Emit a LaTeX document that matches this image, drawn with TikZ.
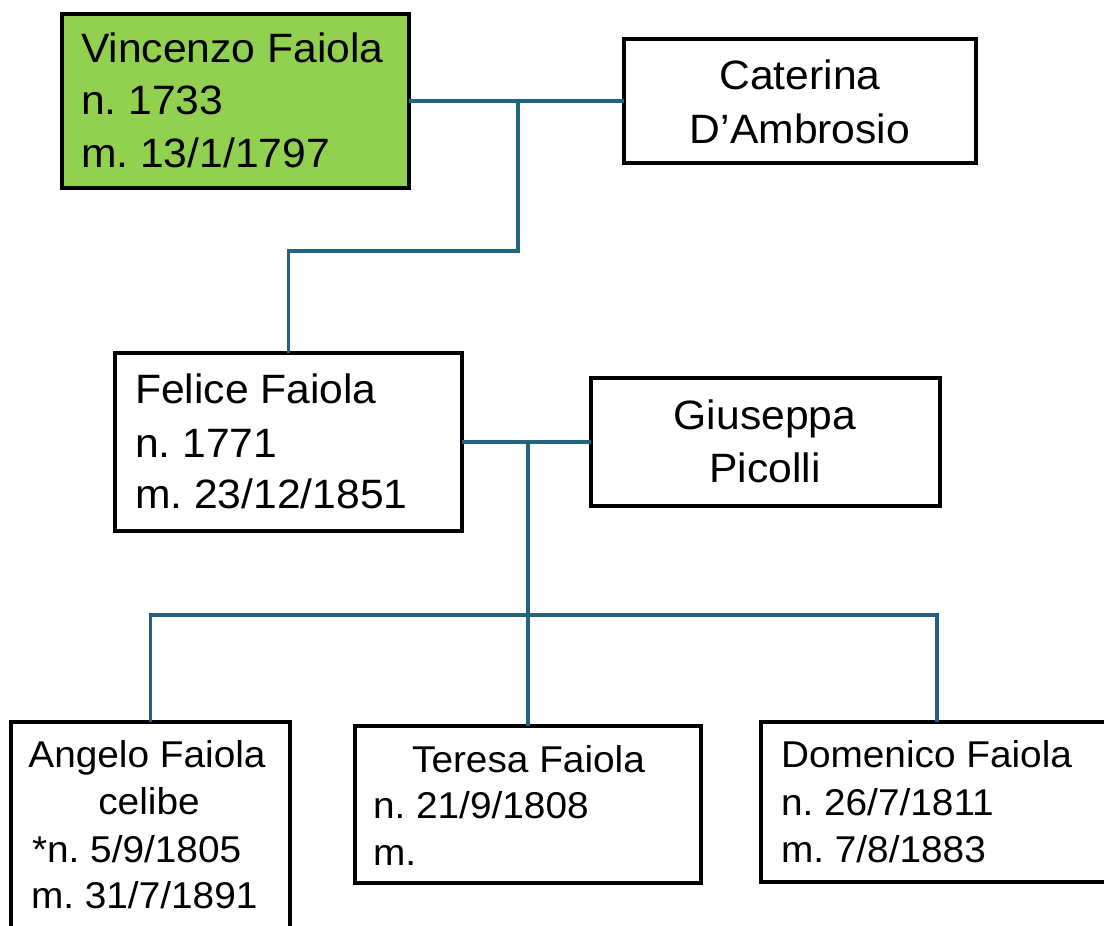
\documentclass[tikz,border=0pt]{standalone}
\usepackage{fontspec}
\setmainfont{Liberation Sans}[FakeStretch=1.04]
\definecolor{linkblue}{RGB}{36,98,130}
\definecolor{leafgreen}{HTML}{92D050}
\tikzset{
  person/.style={draw=black, line width=3.5pt, fill=white, rectangle, inner sep=0pt, outer sep=0pt, anchor=north west},
  big/.style={font=\fontsize{41}{50}\selectfont, inner sep=0pt, outer sep=0pt},
  small/.style={font=\fontsize{37.3}{46}\selectfont, inner sep=0pt, outer sep=0pt},
  link/.style={draw=linkblue, line width=3.8pt}
}
\frenchspacing
\begin{document}
\begin{tikzpicture}[x=1pt,y=-1pt]
\useasboundingbox (0,0) rectangle (1104,926);
\fill[white] (0,0) rectangle (1104,926);

% boxes
\node[person, fill=leafgreen, minimum width=347pt, minimum height=174pt] (vin) at (62,14) {};
\node[person, minimum width=352pt, minimum height=124pt] (cat) at (624,39) {};
\node[person, minimum width=347pt, minimum height=178pt] (fel) at (115,353) {};
\node[person, minimum width=349pt, minimum height=128pt] (giu) at (591,378) {};
\node[person, minimum width=279pt, minimum height=260pt] (ang) at (11,722) {};
\node[person, minimum width=346pt, minimum height=157pt] (ter) at (355,726) {};
\node[person, minimum width=352pt, minimum height=160pt] (dom) at (761,722) {};

% connectors
\draw[link] (vin.east) -- (cat.west);
\coordinate (j1) at (518,101);
\coordinate (k1) at (518,251);
\draw[link] (j1) -- (k1) -| (fel.north);
\draw[link] (fel.east) -- (giu.west);
\coordinate (j2) at (528,442);
\coordinate (bus) at (528,615);
\draw[link] (j2) -- (ter.north);
\draw[link] (ang.north) |- (bus) -| (dom.north);

% texts
\node[big, anchor=base west] (vin1) at (81,62) {Vincenzo Faiola};
\node[big, anchor=base west] (vin2) at (81,114) {n. 1733};
\node[big, anchor=base west] (vin3) at (81,167) {m. 13/1/1797};

\node[big, anchor=base] (cat1) at (800,89) {Caterina};
\node[big, anchor=base] (cat2) at (800,143) {D’Ambrosio};

\node[big, anchor=base west] (fel1) at (135,403) {Felice Faiola};
\node[big, anchor=base west] (fel2) at (135,457) {n. 1771};
\node[big, anchor=base west] (fel3) at (135,508) {m. 23/12/1851};

\node[big, anchor=base] (giu1) at (765,429) {Giuseppa};
\node[big, anchor=base] (giu2) at (765,482) {Picolli};

\node[small, anchor=base] (ang1) at (147,767) {Angelo Faiola};
\node[small, anchor=base] (ang2) at (149,814) {celibe};
\node[small, anchor=base west] (ang3) at (32,862) {*n. 5/9/1805};
\node[small, anchor=base west] (ang4) at (31,908) {m. 31/7/1891};

\node[small, anchor=base] (ter1) at (528.5,772) {Teresa Faiola};
\node[small, anchor=base west] (ter2) at (373,818) {n. 21/9/1808};
\node[small, anchor=base west] (ter3) at (373,865) {m.};

\node[small, anchor=base west] (dom1) at (781,767) {Domenico Faiola};
\node[small, anchor=base west] (dom2) at (781,815) {n. 26/7/1811};
\node[small, anchor=base west] (dom3) at (781,862) {m. 7/8/1883};
\end{tikzpicture}
\end{document}
